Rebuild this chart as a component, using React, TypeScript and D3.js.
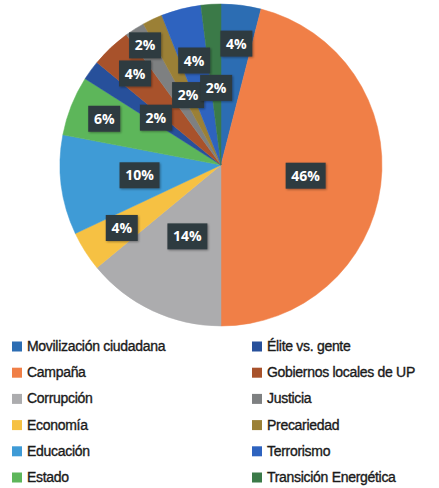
import React from "react";
import * as d3 from "d3";

const categories = [
  "Movilización ciudadana",
  "Campaña",
  "Corrupción",
  "Economía",
  "Educación",
  "Estado",
  "Élite vs. gente",
  "Gobiernos locales de UP",
  "Justicia",
  "Precariedad",
  "Terrorismo",
  "Transición Energética",
];
const values = [4, 46, 14, 4, 10, 6, 2, 4, 2, 2, 4, 2];
const colors = [
  "#2c6db3",
  "#f07f47",
  "#acacae",
  "#f6c143",
  "#3f9bd6",
  "#5db65a",
  "#27509b",
  "#a8522b",
  "#7e8081",
  "#9b8036",
  "#2e63bf",
  "#3b7a48",
];
// label distance from centre as a fraction of the radius (layout)
const labelRadius = [0.76, 0.53, 0.49, 0.73, 0.51, 0.78, 0.5, 0.78, 0.88, 0.48, 0.67, 0.48];

const W = 439;
const H = 488;
const cx = 221;
const cy = 165;
const R = 161;

export default function App() {
  const pie = d3.pie<number>().sort(null).value((d) => d);
  const arcs = pie(values);
  const arc = d3.arc<d3.PieArcDatum<number>>().innerRadius(0).outerRadius(R);

  const legendRows = 6;
  return (
    <svg width={W} height={H} style={{ position: "absolute", left: 0, top: 0, background: "#fff" }}>
      <defs>
        <filter id="sh" x="-30%" y="-30%" width="160%" height="160%">
          <feDropShadow dx="1" dy="1" stdDeviation="1.2" floodColor="#000" floodOpacity="0.35" />
        </filter>
      </defs>
      <g transform={`translate(${cx},${cy})`}>
        {arcs.map((a, i) => (
          <path key={i} d={arc(a) || ""} fill={colors[i]} stroke={colors[i]} strokeWidth={0.5} />
        ))}
        {arcs.map((a, i) => {
          const mid = (a.startAngle + a.endAngle) / 2;
          const r = labelRadius[i] * R;
          const x = Math.sin(mid) * r;
          const y = -Math.cos(mid) * r;
          const txt = `${values[i]}%`;
          const w = txt.length === 3 ? 40 : 32;
          const h = 26;
          return (
            <g key={"l" + i} transform={`translate(${x},${y})`}>
              <rect x={-w / 2} y={-h / 2} width={w} height={h} fill="#2f3a3f" filter="url(#sh)" />
              <text
                x={0}
                y={0}
                dy="0.36em"
                textAnchor="middle"
                fill="#fff"
                fontFamily="'Open Sans', sans-serif"
                fontWeight={700}
                fontSize={14}
              >
                {txt}
              </text>
            </g>
          );
        })}
      </g>
      <g>
        {categories.map((c, i) => {
          const col = Math.floor(i / legendRows);
          const row = i % legendRows;
          const x = col === 0 ? 12 : 252;
          const y = 346 + row * 26.2;
          return (
            <g key={"g" + i} transform={`translate(${x},${y})`}>
              <rect x={0} y={-4.5} width={10} height={10} fill={colors[i]} />
              <text
                x={15}
                y={0}
                dy="0.35em"
                fill="#1a1a1a"
                stroke="#1a1a1a"
                strokeWidth={0.35}
                letterSpacing={-0.3}
                fontFamily="'Liberation Sans', Arial, sans-serif"
                fontSize={14}
              >
                {c}
              </text>
            </g>
          );
        })}
      </g>
    </svg>
  );
}
